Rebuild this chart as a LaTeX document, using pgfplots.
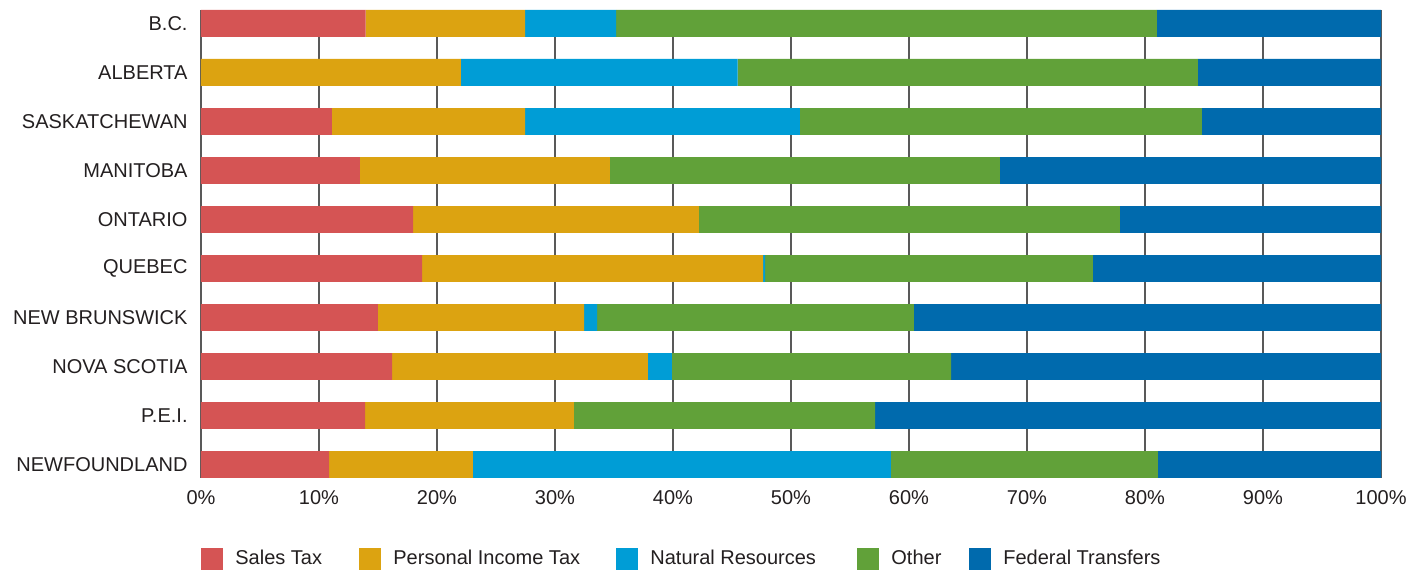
\documentclass[border=0pt]{standalone}
\usepackage{fontspec}
\setmainfont{Liberation Sans}
\usepackage{pgfplots}
\usepackage{pgfplotstable}
\pgfplotsset{compat=1.18}

\definecolor{salescol}{HTML}{D55454}
\definecolor{pitcol}{HTML}{DCA311}
\definecolor{nrcol}{HTML}{009DD6}
\definecolor{othercol}{HTML}{61A139}
\definecolor{fedcol}{HTML}{006AAD}
\definecolor{txt}{HTML}{231F20}

% shares of provincial revenue, in %, bottom row first
\pgfplotstableread{
y sales pit nr other fed
0 10.85 12.20 35.42 22.63 18.90
1 13.90 17.70 0.00 25.52 42.88
2 16.19 21.69 2.02 23.66 36.44
3 15.00 17.46 1.10 26.86 39.58
4 18.73 28.90 0.17 27.79 24.41
5 17.97 24.23 0.00 35.68 22.12
6 13.47 21.19 0.00 33.05 32.29
7 11.10 16.36 23.30 34.07 15.17
8 0.00 22.03 23.44 39.02 15.51
9 13.96 13.50 7.71 45.83 19.00
}\provdata

\pgfplotsset{
  segment/.style={fill=#1, draw=none,
    legend image code/.code={\fill[#1] (0pt,-5.5pt) rectangle (11pt,5.5pt);}},
}

\begin{document}
\begin{tikzpicture}
\begin{axis}[
    xbar stacked,
    bar width=0.55,
    scale only axis,
    width=590pt, height=234pt,
    xmin=0, xmax=100,
    ymin=-0.275, ymax=9.275,
    axis line style={draw=none},
    major tick length=0pt,
    tick style={draw=none},
    xtick={0,10,...,100},
    xticklabels={0\%,10\%,20\%,30\%,40\%,50\%,60\%,70\%,80\%,90\%,100\%},
    ytick={0,...,9},
    yticklabels={NEWFOUNDLAND,P.E.I.,NOVA SCOTIA,NEW BRUNSWICK,QUEBEC,ONTARIO,MANITOBA,SASKATCHEWAN,ALBERTA,B.C.},
    xmajorgrids=true,
    grid style={color=black!65, line width=0.6pt},
    xticklabel style={text=txt, yshift=-2.5pt},
    yticklabel style={text=txt, xshift=-3.2pt},
    legend columns=-1,
    legend style={at={(0,-0.173)}, anchor=west, draw=none, inner sep=0pt,
      nodes={inner xsep=0pt, inner ysep=0pt, text=txt},
      /tikz/every odd column/.append style={column sep=6pt},
      /tikz/every even column/.append style={column sep=0pt}},
]
\addplot[segment=salescol] table[x=sales, y=y] {\provdata};
\addlegendentry{\makebox[62pt][l]{Sales Tax}}
\addplot[segment=pitcol] table[x=pit, y=y] {\provdata};
\addlegendentry{\makebox[111.5pt][l]{Personal Income Tax}}
\addplot[segment=nrcol] table[x=nr, y=y] {\provdata};
\addlegendentry{\makebox[103.5pt][l]{Natural Resources}}
\addplot[segment=othercol] table[x=other, y=y] {\provdata};
\addlegendentry{\makebox[39pt][l]{Other}}
\addplot[segment=fedcol] table[x=fed, y=y] {\provdata};
\addlegendentry{Federal Transfers}
\end{axis}
\path ([shift={(-100.5pt,-47pt)}]current axis.south west) rectangle ([shift={(22.5pt,5pt)}]current axis.north east);
\end{tikzpicture}
\end{document}
